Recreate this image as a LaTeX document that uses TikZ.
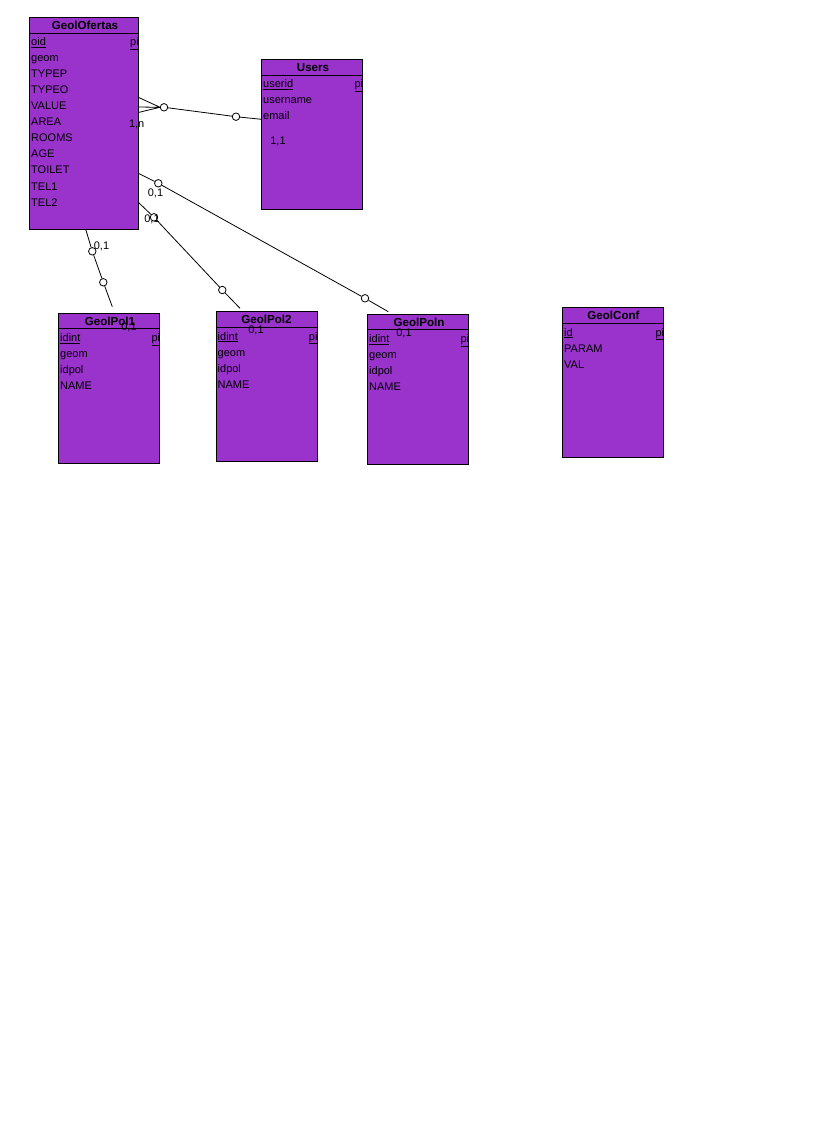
\documentclass[tikz,border=0pt]{standalone}
\usepackage{fontspec}
\setmainfont{Liberation Sans}
\definecolor{tblfill}{HTML}{9933CC}
\begin{document}
\begin{tikzpicture}[x=1pt,y=-1pt,
 tablebox/.style={draw=black,fill=tblfill,line width=0.9pt,inner sep=0pt,anchor=north west,minimum width=101pt,minimum height=150pt},
 ttl/.style={font=\fontsize{11.6}{13}\selectfont\bfseries,anchor=base,inner sep=0pt},
 attr/.style={font=\fontsize{11}{13}\selectfont,anchor=base west,inner sep=0pt},
 card/.style={font=\fontsize{11}{13}\selectfont,inner sep=0pt},
 knob/.style={circle,draw=black,fill=white,line width=0.8pt,minimum size=7.5pt,inner sep=0pt},
 conn/.style={line width=0.8pt}]
\useasboundingbox (0,0) rectangle (813,1142);
\fill[white] (0,0) rectangle (813,1142);

% ---------- GeolOfertas ----------
\node[tablebox,minimum width=109pt,minimum height=212pt] (ofe) at (29.3,17.3) {};
\draw[line width=0.9pt] (29.3,33.3) -- (138.3,33.3);
\node[ttl] (ofeT) at (85,29.5) {GeolOfertas};
\node[attr] (ofe1) at (31,46) {\underline{oid}};
\node[attr] (ofepk) at (130,46) {\underline{pi}};
\node[attr] (ofe2) at (31,62) {geom};
\node[attr] (ofe3) at (31,78) {TYPEP};
\node[attr] (ofe4) at (31,94) {TYPEO};
\node[attr] (ofe5) at (31,110) {VALUE};
\node[attr] (ofe6) at (31,126) {AREA};
\node[attr] (ofe7) at (31,142) {ROOMS};
\node[attr] (ofe8) at (31,158) {AGE};
\node[attr] (ofe9) at (31,174) {TOILET};
\node[attr] (ofe10) at (31,190) {TEL1};
\node[attr] (ofe11) at (31,206) {TEL2};

% ---------- Users ----------
\node[tablebox,minimum width=101pt,minimum height=150pt] (usr) at (261.3,59.3) {};
\draw[line width=0.9pt] (261.3,75.3) -- (362.3,75.3);
\node[ttl] (usrT) at (313,71.5) {Users};
\node[attr] (usr1) at (263,88) {\underline{userid}};
\node[attr] (usrpk) at (354.3,88) {\underline{pi}};
\node[attr] (usr2) at (263,104) {username};
\node[attr] (usr3) at (263,120) {email};

% ---------- GeolPol1 ----------
\node[tablebox] (p1) at (58.3,312.7) {};
\draw[line width=0.9pt] (58.3,328.7) -- (159.3,328.7);
\node[ttl] (p1T) at (110,325) {GeolPol1};
\node[attr] (p11) at (60,341.5) {\underline{idint}};
\node[attr] (p1pk) at (151.3,341.5) {\underline{pi}};
\node[attr] (p12) at (60,357.5) {geom};
\node[attr] (p13) at (60,373.5) {idpol};
\node[attr] (p14) at (60,389.5) {NAME};

% ---------- GeolPol2 ----------
\node[tablebox] (p2) at (215.7,311.3) {};
\draw[line width=0.9pt] (215.7,327.3) -- (316.7,327.3);
\node[ttl] (p2T) at (266.5,323.5) {GeolPol2};
\node[attr] (p21) at (217.5,340) {\underline{idint}};
\node[attr] (p2pk) at (308.7,340) {\underline{pi}};
\node[attr] (p22) at (217.5,356) {geom};
\node[attr] (p23) at (217.5,372) {idpol};
\node[attr] (p24) at (217.5,388) {NAME};

% ---------- GeolPoln ----------
\node[tablebox] (pn) at (367.3,313.7) {};
\draw[line width=0.9pt] (367.3,329.7) -- (468.3,329.7);
\node[ttl] (pnT) at (419,326) {GeolPoln};
\node[attr] (pn1) at (369,342.5) {\underline{idint}};
\node[attr] (pnpk) at (460.3,342.5) {\underline{pi}};
\node[attr] (pn2) at (369,358.5) {geom};
\node[attr] (pn3) at (369,374.5) {idpol};
\node[attr] (pn4) at (369,390.5) {NAME};

% ---------- GeolConf ----------
\node[tablebox] (cf) at (562.3,307.3) {};
\draw[line width=0.9pt] (562.3,323.3) -- (663.3,323.3);
\node[ttl] (cfT) at (613.5,319.5) {GeolConf};
\node[attr] (cf1) at (564,336) {\underline{id}};
\node[attr] (cfpk) at (655.3,336) {\underline{pi}};
\node[attr] (cf2) at (564,352) {PARAM};
\node[attr] (cf3) at (564,368) {VAL};

% ---------- Ofertas -- Users ----------
\coordinate (cfA) at (138.3,97.3);
\coordinate (cfB) at (138.3,107);
\coordinate (cfC) at (138.3,112.5);
\coordinate (cfTip) at (160,107.3);
\node[knob] (ku1) at (164,107.3) {};
\node[knob] (ku2) at (236,116.7) {};
\coordinate (uEnd) at (261.3,119.3);
\draw[conn] (cfA) -- (cfTip) (cfB) -- (cfTip) (cfC) -- (cfTip);
\draw[conn] (ku1) -- (ku2) -- (uEnd);
\node[card] (lbl1n) at (136.7,124.5) {1,n};
\node[card] (lbl11) at (278,141.5) {1,1};

% ---------- Ofertas -- GeolPoln ----------
\coordinate (snA) at (138.3,173.3);
\node[knob] (kn1) at (158.3,183.3) {};
\node[knob] (kn2) at (365,298.3) {};
\coordinate (snB) at (388.3,311.7);
\draw[conn] (snA) -- (kn1) -- (kn2) -- (snB);
\node[card] (lbln1) at (155.5,193.5) {0,1};
\node[card] (lbln2) at (404,333.5) {0,1};

% ---------- Ofertas -- GeolPol2 ----------
\coordinate (s2A) at (138.3,202.3);
\node[knob] (k21) at (154,217.3) {};
\node[knob] (k22) at (222.3,290) {};
\coordinate (s2B) at (240,308.3);
\draw[conn] (s2A) -- (k21) -- (k22) -- (s2B);
\node[card] (lbl21) at (152,219.5) {0,1};
\node[card] (lbl22) at (256,330.5) {0,1};

% ---------- Ofertas -- GeolPol1 ----------
\coordinate (s1A) at (85.7,229.3);
\node[knob] (k11) at (92.3,251.3) {};
\node[knob] (k12) at (103.3,282.3) {};
\coordinate (s1B) at (112.3,306.7);
\draw[conn] (s1A) -- (k11) -- (k12) -- (s1B);
\node[card] (lbl111) at (101.5,246.5) {0,1};
\node[card] (lbl112) at (129,327.5) {0,1};
\end{tikzpicture}
\end{document}
